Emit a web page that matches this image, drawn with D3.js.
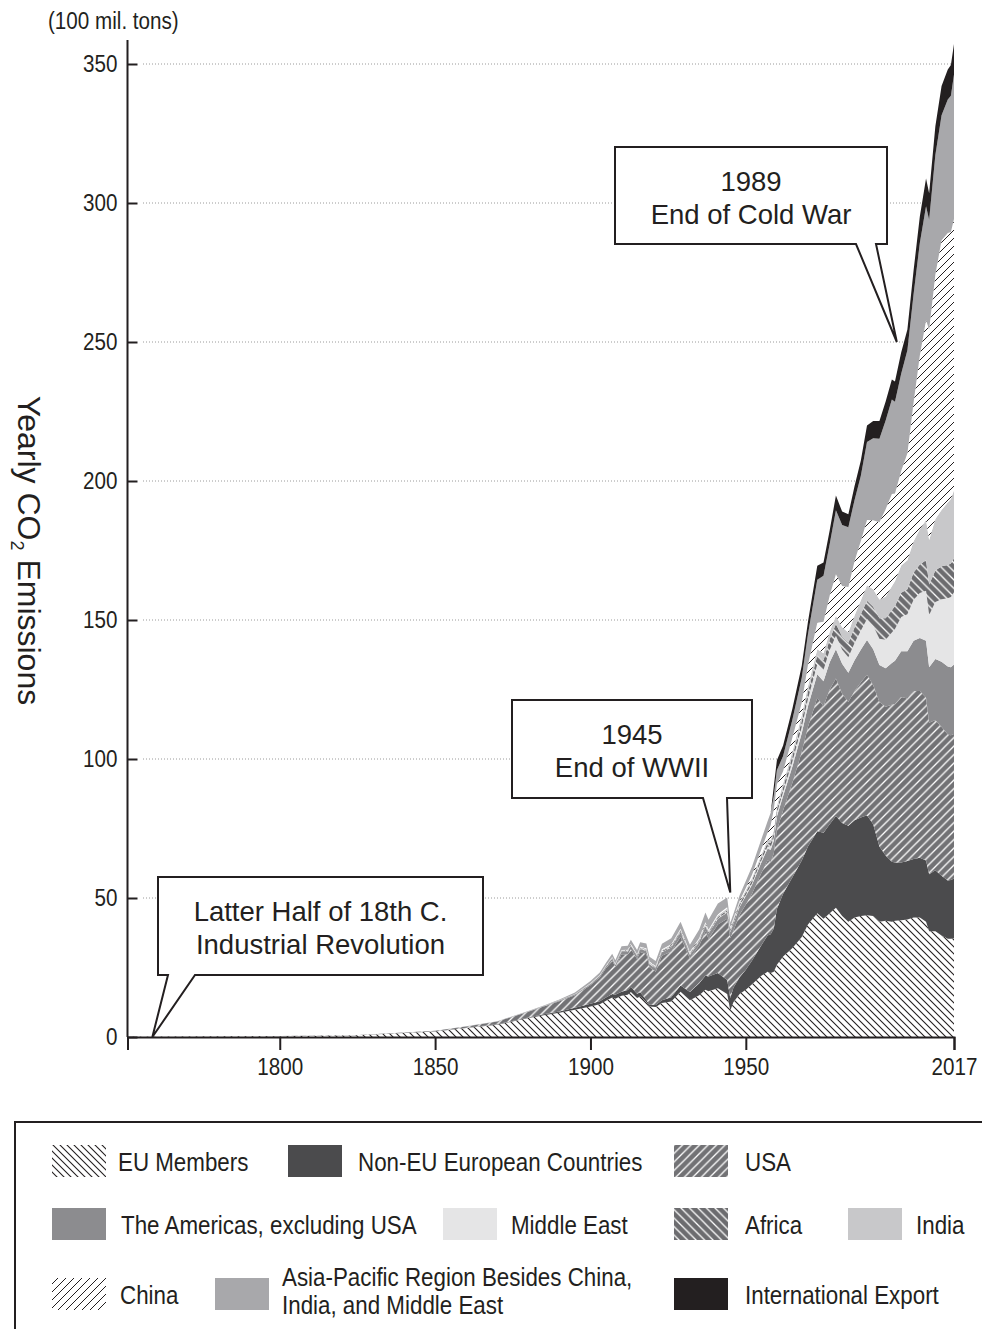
<!DOCTYPE html>
<html>
<head>
<meta charset="utf-8">
<script src="https://cdn.jsdelivr.net/npm/d3@7"></script>
<style>
  body { margin: 0; background: #fff; }
  svg { display: block; }
</style>
</head>
<body>
<svg id="chart" width="982" height="1329"></svg>
<script>
// Stützjahre
const years = [
  1751, 1800, 1825, 1850, 1860, 1870, 1880, 1885, 1890, 1895,
  1900, 1903, 1905, 1907, 1908, 1910, 1912, 1913, 1915, 1916,
  1918, 1919, 1921, 1923, 1926, 1929, 1932, 1935, 1937, 1938,
  1941, 1944, 1945, 1946, 1948, 1950, 1952, 1955, 1957, 1958,
  1959, 1960, 1962, 1965, 1968, 1970, 1973, 1975, 1977, 1979,
  1981, 1983, 1985, 1987, 1989, 1991, 1993, 1995, 1997, 1998,
  2000, 2002, 2004, 2006, 2008, 2009, 2011, 2013, 2015, 2016,
  2017
];

// Emissionen je Region (100 Mio. t), von unten nach oben gestapelt
const euMembers = [
  0.1, 0.3, 0.6, 2.0, 3.2, 4.4, 6.8, 7.8, 8.7, 9.8,
  11.0, 11.8, 13.0, 14.2, 13.8, 14.8, 15.2, 16.2, 14.0, 14.6,
  12.5, 11.0, 10.8, 12.2, 12.8, 16.3, 13.2, 15.0, 17.0, 16.5,
  17.5, 15.5, 9.5, 12.5, 15.5, 17.0, 19.0, 22.0, 23.5, 23.0,
  23.5, 26.0, 29.0, 32.0, 36.0, 40.5, 44.5, 42.5, 44.5, 46.5,
  43.5, 41.5, 43.0, 43.5, 43.8, 43.5, 41.5, 41.8, 41.5, 41.8,
  42.0, 42.3, 43.0, 43.0, 41.5, 38.0, 38.0, 36.5, 35.3, 35.3,
  35.5
];
const nonEuEurope = [
  0, 0, 0, 0.05, 0.1, 0.15, 0.25, 0.35, 0.5, 0.7,
  1.0, 1.1, 1.2, 1.3, 1.4, 1.5, 1.7, 1.9, 1.6, 1.5,
  0.8, 0.6, 0.7, 1.0, 1.5, 2.2, 3.0, 4.3, 5.0, 5.3,
  5.5, 5.0, 4.5, 5.2, 6.0, 7.2, 8.5, 11.0, 13.0, 14.0,
  15.5, 20.0, 22.5, 25.5, 27.5, 28.0, 29.5, 31.0, 32.0, 33.0,
  33.5, 34.5, 35.0, 35.5, 36.0, 33.0, 27.0, 23.5, 21.5, 21.0,
  20.8, 21.0, 21.0, 21.5, 22.0, 20.5, 22.0, 21.5, 21.0, 21.2,
  21.5
];
const usa = [
  0, 0.03, 0.08, 0.2, 0.5, 1.0, 2.0, 2.8, 3.7, 4.5,
  6.6, 8.5, 10.5, 12.0, 10.0, 13.5, 12.8, 13.5, 12.5, 14.5,
  16.5, 13.5, 12.0, 16.0, 16.5, 17.5, 12.0, 13.5, 16.0, 13.5,
  17.5, 22.0, 21.5, 20.5, 22.5, 23.5, 24.0, 26.0, 27.0, 26.0,
  27.0, 28.5, 30.0, 34.0, 39.0, 43.0, 48.0, 45.5, 48.5, 49.5,
  46.5, 44.5, 46.5, 48.5, 50.5, 50.0, 52.0, 53.5, 56.5, 57.0,
  59.5, 58.5, 60.5, 60.0, 58.5, 54.5, 54.0, 53.5, 52.5, 52.0,
  52.0
];
const americas = [
  0, 0, 0, 0, 0.02, 0.05, 0.1, 0.15, 0.2, 0.3,
  0.4, 0.5, 0.6, 0.75, 0.7, 0.9, 1.0, 1.1, 0.9, 1.0,
  1.2, 1.1, 1.1, 1.3, 1.4, 1.7, 1.3, 1.5, 1.8, 1.8,
  2.0, 2.3, 2.3, 2.5, 2.8, 3.0, 3.3, 3.8, 4.2, 4.4,
  4.6, 4.8, 5.2, 5.8, 6.8, 7.5, 8.5, 9.0, 9.8, 10.5,
  10.8, 10.5, 11.0, 11.8, 12.5, 13.0, 13.3, 13.8, 15.0, 15.5,
  16.5, 17.0, 18.0, 19.0, 20.5, 20.0, 22.0, 23.5, 24.5, 24.5,
  25.0
];
const middleEast = [
  0, 0, 0, 0, 0, 0, 0, 0, 0, 0,
  0, 0, 0, 0.01, 0.01, 0.02, 0.02, 0.03, 0.03, 0.03,
  0.04, 0.04, 0.05, 0.06, 0.07, 0.1, 0.1, 0.12, 0.15, 0.15,
  0.18, 0.2, 0.2, 0.25, 0.3, 0.4, 0.5, 0.7, 0.85, 0.95,
  1.05, 1.15, 1.4, 1.8, 2.2, 2.6, 3.5, 4.0, 4.4, 4.8,
  5.0, 5.6, 6.2, 6.8, 7.6, 8.3, 9.5, 10.3, 11.0, 11.5,
  12.3, 13.3, 14.8, 16.2, 18.0, 18.8, 20.5, 22.5, 24.5, 25.3,
  26.0
];
const africa = [
  0, 0, 0, 0, 0, 0, 0.01, 0.02, 0.03, 0.05,
  0.1, 0.12, 0.15, 0.18, 0.18, 0.2, 0.22, 0.25, 0.25, 0.27,
  0.3, 0.3, 0.3, 0.35, 0.38, 0.4, 0.35, 0.42, 0.45, 0.45,
  0.5, 0.6, 0.6, 0.7, 0.85, 1.0, 1.1, 1.2, 1.3, 1.4,
  1.45, 1.5, 1.7, 2.0, 2.3, 2.6, 3.2, 3.5, 3.9, 4.3,
  4.8, 5.2, 5.6, 6.0, 6.5, 7.0, 7.3, 7.7, 8.0, 8.2,
  8.7, 9.0, 9.8, 10.3, 11.0, 11.0, 11.3, 11.8, 12.0, 12.0,
  12.2
];
const india = [
  0, 0, 0, 0, 0, 0.01, 0.03, 0.05, 0.08, 0.12,
  0.15, 0.18, 0.2, 0.23, 0.25, 0.28, 0.3, 0.32, 0.33, 0.35,
  0.36, 0.38, 0.38, 0.4, 0.42, 0.45, 0.42, 0.45, 0.5, 0.52,
  0.55, 0.6, 0.6, 0.6, 0.65, 0.7, 0.75, 0.9, 1.0, 1.1,
  1.15, 1.2, 1.4, 1.6, 1.9, 2.0, 2.3, 2.5, 2.7, 2.9,
  3.3, 3.7, 4.3, 4.9, 5.6, 6.3, 6.8, 7.8, 8.6, 8.9,
  9.8, 10.4, 11.2, 12.6, 14.5, 16.0, 18.5, 20.3, 22.5, 23.2,
  24.5
];
const china = [
  0, 0, 0, 0, 0, 0, 0, 0, 0.01, 0.02,
  0.05, 0.07, 0.08, 0.1, 0.1, 0.13, 0.17, 0.2, 0.2, 0.22,
  0.22, 0.23, 0.23, 0.25, 0.27, 0.3, 0.3, 0.35, 0.4, 0.35,
  0.45, 0.5, 0.4, 0.35, 0.4, 0.8, 1.2, 1.9, 2.7, 5.3,
  7.6, 7.8, 4.4, 5.0, 4.5, 7.7, 9.5, 11.4, 13.0, 15.0,
  14.8, 16.4, 19.6, 21.3, 23.5, 24.8, 27.8, 31.4, 33.2, 31.6,
  34.0, 38.5, 50.0, 62.5, 71.8, 75.7, 88.0, 97.0, 96.9, 96.1,
  97.5
];
const asiaPacific = [
  0, 0, 0, 0.02, 0.05, 0.08, 0.15, 0.2, 0.3, 0.5,
  0.8, 0.9, 1.0, 1.2, 1.2, 1.3, 1.4, 1.5, 1.5, 1.6,
  1.7, 1.7, 1.8, 2.0, 2.2, 2.5, 2.5, 3.0, 3.5, 3.6,
  3.8, 3.5, 1.5, 1.6, 2.0, 2.5, 3.0, 3.6, 4.1, 4.5,
  4.8, 5.0, 5.5, 6.5, 9.0, 11.0, 15.5, 16.5, 18.5, 23.0,
  22.0, 21.5, 22.0, 23.5, 28.0, 29.5, 30.0, 32.0, 34.0, 33.0,
  35.0, 37.0, 39.0, 40.5, 41.0, 39.5, 43.0, 45.0, 48.0, 49.0,
  52.0
];
const intlExport = [
  0, 0, 0, 0, 0, 0, 0, 0, 0, 0,
  0, 0, 0, 0, 0, 0, 0, 0, 0, 0,
  0, 0, 0, 0, 0, 0, 0, 0, 0, 0,
  0, 0, 0, 0, 0, 0, 0, 0, 0, 0,
  3.5, 3.6, 3.8, 4.0, 4.3, 4.5, 5.0, 4.8, 5.0, 5.3,
  4.8, 4.6, 5.0, 5.5, 6.0, 6.2, 6.4, 6.8, 7.2, 7.3,
  7.6, 7.5, 8.5, 9.5, 10.0, 9.5, 10.3, 10.5, 10.8, 11.0,
  11.0
];

const seriesKeys = ["eu", "noneu", "usa", "americas", "mideast", "africa", "india", "china", "asiapac", "intl"];
const seriesValues = [euMembers, nonEuEurope, usa, americas, middleEast, africa, india, china, asiaPacific, intlExport];
const seriesLabels = [
  "EU Members", "Non-EU European Countries", "USA",
  "The Americas, excluding USA", "Middle East", "Africa", "India",
  "China", "Asia-Pacific Region Besides China,\nIndia, and Middle East", "International Export"
];

const yTicks = [0, 50, 100, 150, 200, 250, 300, 350];
const xTicks = [1800, 1850, 1900, 1950, 2017];
const unitLabel = "(100 mil. tons)";

// Anmerkungen: Text und Zielpunkt (Jahr, Wert)
const notes = [
  { lines: ["Latter Half of 18th C.", "Industrial Revolution"], year: 1759, value: 0 },
  { lines: ["1945", "End of WWII"], year: 1945, value: 52 },
  { lines: ["1989", "End of Cold War"], year: 1998.6, value: 250 }
];

const REGULAR = "'Liberation Sans', Arial, Helvetica, sans-serif";
const INK = "#231f20";

const svg = d3.select("#chart");

// schmale Schrift nachbilden: horizontal stauchen um den Ankerpunkt
function squeeze(sel, sx) {
  sel.each(function () {
    const t = d3.select(this);
    const x0 = +t.attr("x") || 0;
    t.attr("transform", `translate(${x0},0) scale(${sx},1) translate(${-x0},0)`);
  });
}

// Datenzeilen für d3.stack
const rows = years.map((yr, i) => {
  const r = { year: yr };
  seriesKeys.forEach((k, j) => r[k] = seriesValues[j][i]);
  return r;
});

const x = d3.scaleLinear().domain([1751, 2017]).range([127.5, 954]);
const y = d3.scaleLinear().domain([0, 350]).range([1037, 64]);

// Schraffuren
const defs = svg.append("defs");
function hatch(id, bg, fg, dir, s, w) {
  const p = defs.append("pattern")
    .attr("id", id)
    .attr("patternUnits", "userSpaceOnUse")
    .attr("width", s).attr("height", s);
  p.append("rect").attr("width", s).attr("height", s).attr("fill", bg);
  const d = dir === "/"
    ? `M${-s/4},${s/4}L${s/4},${-s/4}M0,${s}L${s},0M${s*3/4},${s*5/4}L${s*5/4},${s*3/4}`
    : `M${-s/4},${s*3/4}L${s/4},${s*5/4}M0,0L${s},${s}M${s*3/4},${-s/4}L${s*5/4},${s/4}`;
  p.append("path").attr("d", d).attr("stroke", fg).attr("stroke-width", w).attr("fill", "none");
}
hatch("hEU", "#ffffff", "#231f20", "\\", 7, 1.1);
hatch("hUSA", "#727275", "#ffffff", "/", 8.5, 1.3);
hatch("hAF", "#6c6c6f", "#ffffff", "\\", 8.5, 1.3);
hatch("hCN", "#ffffff", "#231f20", "/", 8, 1.0);

const fills = {
  eu: "url(#hEU)", noneu: "#4b4b4d", usa: "url(#hUSA)", americas: "#8c8c8f",
  mideast: "#e5e5e6", africa: "url(#hAF)", india: "#c8c8ca", china: "url(#hCN)",
  asiapac: "#a8a8ab", intl: "#231f20"
};

// Gitterlinien
svg.append("g")
  .selectAll("line")
  .data(yTicks.filter(t => t > 0))
  .enter().append("line")
  .attr("x1", 143).attr("x2", x(2017))
  .attr("y1", d => y(d)).attr("y2", d => y(d))
  .attr("stroke", "#9a9a9a")
  .attr("stroke-width", 1)
  .attr("stroke-dasharray", "1,2");

// Gestapelte Flächen
const stacked = d3.stack().keys(seriesKeys)(rows);
const area = d3.area()
  .x(d => x(d.data.year))
  .y0(d => y(d[0]))
  .y1(d => y(d[1]));

svg.append("g")
  .selectAll("path")
  .data(stacked)
  .enter().append("path")
  .attr("d", area)
  .attr("fill", d => fills[d.key]);

// X-Achse
const xAxis = svg.append("g")
  .attr("transform", `translate(0,${y(0)})`)
  .call(d3.axisBottom(x).tickValues(xTicks).tickFormat(d3.format("d")).tickSize(13).tickSizeOuter(13).tickPadding(8));
xAxis.select(".domain").attr("stroke", INK).attr("stroke-width", 2);
xAxis.selectAll(".tick line").attr("stroke", INK).attr("stroke-width", 2);
xAxis.selectAll("text").attr("font-family", REGULAR).attr("font-size", 24).attr("fill", INK).call(squeeze, 0.86);

// Y-Achse
const yAxis = svg.append("g")
  .attr("transform", `translate(${x(1751)},0)`)
  .call(d3.axisLeft(y).tickValues(yTicks).tickSize(-10).tickSizeOuter(0).tickPadding(10));
yAxis.select(".domain").remove();
yAxis.append("line").attr("y1", 40).attr("y2", y(0)).attr("stroke", INK).attr("stroke-width", 2);
yAxis.selectAll(".tick line").attr("stroke", INK).attr("stroke-width", 2);
yAxis.selectAll("text").attr("font-family", REGULAR).attr("font-size", 24).attr("fill", INK).call(squeeze, 0.86);

// Einheit und Achsentitel
svg.append("text")
  .attr("x", 48).attr("y", 29)
  .attr("font-family", REGULAR).attr("font-size", 24).attr("fill", INK)
  .text(unitLabel)
  .call(squeeze, 0.86);

const yTitle = svg.append("text")
  .attr("transform", `translate(18,${(y(0) + y(350)) / 2}) rotate(90)`)
  .attr("text-anchor", "middle")
  .attr("font-family", REGULAR).attr("font-size", 32).attr("fill", INK);
yTitle.append("tspan").text("Yearly CO");
yTitle.append("tspan").attr("font-size", 18).attr("dy", 7).text("2");
yTitle.append("tspan").attr("dy", -7).text(" Emissions");

// Sprechblasen
const boxes = [
  { x0: 158, x1: 483, y0: 877, y1: 975, b0: 168, b1: 195 },
  { x0: 512, x1: 752, y0: 700, y1: 798, b0: 703, b1: 727 },
  { x0: 615, x1: 887, y0: 147, y1: 244, b0: 856, b1: 876 }
];
notes.forEach((n, i) => {
  const b = boxes[i];
  const tx = x(n.year), ty = y(n.value);
  const pts = [[b.x0, b.y0], [b.x1, b.y0], [b.x1, b.y1], [b.b1, b.y1], [tx, ty], [b.b0, b.y1], [b.x0, b.y1]];
  svg.append("path")
    .attr("d", d3.line()(pts) + "Z")
    .attr("fill", "#fff")
    .attr("stroke", INK)
    .attr("stroke-width", 2)
    .attr("stroke-linejoin", "miter");
  const cx = (b.x0 + b.x1) / 2;
  n.lines.forEach((t, j) => {
    svg.append("text")
      .attr("x", cx).attr("y", b.y0 + 44 + j * 33)
      .attr("text-anchor", "middle")
      .attr("font-family", REGULAR).attr("font-size", 27.5).attr("fill", INK)
      .text(t);
  });
});

// Legende
svg.append("rect")
  .attr("x", 15).attr("y", 1122).attr("width", 1000).attr("height", 300)
  .attr("fill", "none").attr("stroke", INK).attr("stroke-width", 2);

const legendPos = [
  [52, 118, 0], [288, 358, 0], [674, 745, 0],
  [52, 121, 1], [443, 511, 1], [674, 745, 1], [848, 916, 1],
  [52, 120, 2], [215, 282, 2], [674, 745, 2]
];
const rowMid = [1161, 1224, 1294];

const legend = svg.append("g")
  .selectAll("g")
  .data(seriesKeys)
  .enter().append("g");

legend.append("rect")
  .attr("x", (d, i) => legendPos[i][0])
  .attr("y", (d, i) => rowMid[legendPos[i][2]] - 16)
  .attr("width", 54).attr("height", 32)
  .attr("fill", d => fills[d]);

legend.each(function (d, i) {
  const parts = seriesLabels[i].split("\n");
  const lineGap = 28;
  const base = rowMid[legendPos[i][2]] + 10 - (parts.length - 1) * 18;
  const t = d3.select(this).append("text")
    .attr("x", legendPos[i][1])
    .attr("font-family", REGULAR).attr("font-size", 26).attr("fill", INK);
  parts.forEach((p, j) => {
    t.append("tspan").attr("x", legendPos[i][1]).attr("y", base + j * lineGap).text(p);
  });
  t.call(squeeze, 0.86);
});
</script>
</body>
</html>
